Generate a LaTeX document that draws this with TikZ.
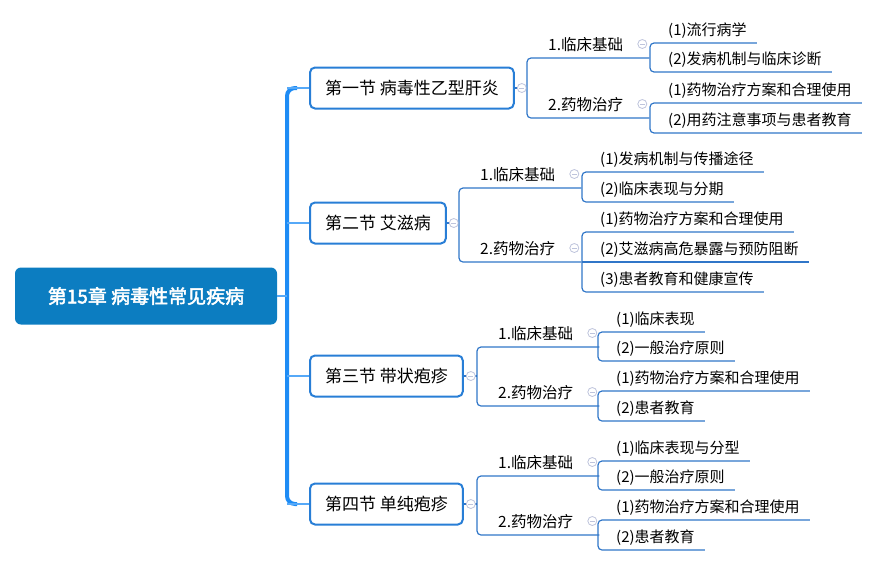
\documentclass[tikz,border=0pt]{standalone}
\usepackage{fontspec}
\setmainfont{Noto Sans CJK SC}[AutoFakeBold=2.5]
\definecolor{rootblue}{RGB}{12,125,193}
\definecolor{trunkblue}{RGB}{30,140,245}
\definecolor{secblue}{RGB}{40,126,214}
\definecolor{linkblue}{RGB}{48,118,200}
\definecolor{foldgray}{RGB}{190,196,220}
\begin{document}
\begin{tikzpicture}[x=1pt,y=-1pt,
                root/.style={fill=rootblue,rounded corners=6pt,text=white,minimum width=262pt,minimum height=57pt,font=\fontsize{19}{22}\selectfont\bfseries},
                sec/.style={draw=secblue,line width=2pt,fill=white,rounded corners=5pt,anchor=west,minimum height=41pt,inner xsep=15pt,font=\fontsize{17}{20}\selectfont},
                sub/.style={anchor=south west,inner sep=0pt,text depth=7pt,font=\fontsize{15.5}{18}\selectfont,execute at begin node={\hspace*{21pt}},execute at end node={\hspace*{26pt}}},
                leaf/.style={anchor=south west,inner sep=0pt,text depth=7pt,font=\fontsize{15}{18}\selectfont,execute at begin node={\hspace*{18pt}},execute at end node={\hspace*{10pt}}},
                link/.style={draw=linkblue,line width=1.2pt},
                bracket/.style={link,rounded corners=4pt},
                branch/.style={draw=trunkblue!75,line width=2pt},
                trunk/.style={draw=trunkblue,line width=4pt,rounded corners=8pt},
                fold/.style={circle,draw=foldgray,fill=white,line width=0.8pt,minimum size=9pt,inner sep=0pt,
                  path picture={\draw[foldgray,line width=0.8pt] ([xshift=2pt]path picture bounding box.west)--([xshift=-2pt]path picture bounding box.east);}}]
                \useasboundingbox (0,0) rectangle (880,566);
                \node[root] (R) at (146,296) {第15章 病毒性常见疾病};
                \node[sec] (S1) at (309,88) {第一节 病毒性乙型肝炎};
                \node[sec] (S2) at (309,223) {第二节 艾滋病};
                \node[sec] (S3) at (309,376) {第三节 带状疱疹};
                \node[sec] (S4) at (309,504) {第四节 单纯疱疹};
                \coordinate (t1) at (287,88);
                \coordinate (t4) at (287,504);
                \draw[trunk] ([xshift=-12pt]S1.west)--(t1)--(t4)--([xshift=-12pt]S4.west);
                \draw[branch] (S1.west -| t1)--(S1.west);
                \draw[branch] (S2.west -| t1)--(S2.west);
                \draw[branch] (S3.west -| t1)--(S3.west);
                \draw[branch] (S4.west -| t1)--(S4.west);
                \draw[branch] (R.east)--(R.east -| t1);
                \node[sub] (T11) at (527,58) {1.临床基础};
                \node[sub] (T12) at (527,118) {2.药物治疗};
                \node[leaf] (L11a) at (650,43) {(1)流行病学};
                \node[leaf] (L11b) at (650,72) {(2)发病机制与临床诊断};
                \node[leaf] (L12a) at (650,103) {(1)药物治疗方案和合理使用};
                \node[leaf] (L12b) at (650,133) {(2)用药注意事项与患者教育};
                \node[sub] (T21) at (459,188) {1.临床基础};
                \node[sub] (T22) at (459,262) {2.药物治疗};
                \node[leaf] (L21a) at (582,172) {(1)发病机制与传播途径};
                \node[leaf] (L21b) at (582,202) {(2)临床表现与分期};
                \node[leaf] (L22a) at (582,232) {(1)药物治疗方案和合理使用};
                \node[leaf] (L22b) at (582,262) {(2)艾滋病高危暴露与预防阻断};
                \node[leaf] (L22c) at (582,292) {(3)患者教育和健康宣传};
                \node[sub] (T31) at (477,347) {1.临床基础};
                \node[sub] (T32) at (477,406) {2.药物治疗};
                \node[leaf] (L31a) at (598,332) {(1)临床表现};
                \node[leaf] (L31b) at (598,361) {(2)一般治疗原则};
                \node[leaf] (L32a) at (598,391) {(1)药物治疗方案和合理使用};
                \node[leaf] (L32b) at (598,421) {(2)患者教育};
                \node[sub] (T41) at (477,476) {1.临床基础};
                \node[sub] (T42) at (477,535) {2.药物治疗};
                \node[leaf] (L41a) at (598,461) {(1)临床表现与分型};
                \node[leaf] (L41b) at (598,490) {(2)一般治疗原则};
                \node[leaf] (L42a) at (598,520) {(1)药物治疗方案和合理使用};
                \node[leaf] (L42b) at (598,550) {(2)患者教育};
                \draw[link] (S1.east)--(S1.east -| T11.west);
                \draw[link] (S2.east)--(S2.east -| T21.west);
                \draw[link] (S3.east)--(S3.east -| T31.west);
                \draw[link] (S4.east)--(S4.east -| T41.west);
                \draw[bracket] (T11.south east)--(T11.south west)--(T12.south west)--(T12.south east);
                \draw[bracket] (T21.south east)--(T21.south west)--(T22.south west)--(T22.south east);
                \draw[bracket] (T31.south east)--(T31.south west)--(T32.south west)--(T32.south east);
                \draw[bracket] (T41.south east)--(T41.south west)--(T42.south west)--(T42.south east);
                \draw[bracket] (L11a.south east)--(L11a.south west)--(L11b.south west)--(L11b.south east);
                \draw[bracket] (L12a.south east)--(L12a.south west)--(L12b.south west)--(L12b.south east);
                \draw[bracket] (L21a.south east)--(L21a.south west)--(L21b.south west)--(L21b.south east);
                \draw[bracket] (L22a.south east)--(L22a.south west)--(L22c.south west)--(L22c.south east);
                \draw[link] (L22b.south west)--(L22b.south east);
                \draw[bracket] (L31a.south east)--(L31a.south west)--(L31b.south west)--(L31b.south east);
                \draw[bracket] (L32a.south east)--(L32a.south west)--(L32b.south west)--(L32b.south east);
                \draw[bracket] (L41a.south east)--(L41a.south west)--(L41b.south west)--(L41b.south east);
                \draw[bracket] (L42a.south east)--(L42a.south west)--(L42b.south west)--(L42b.south east);
                \node[fold] (F1) at ([xshift=7pt]S1.east) {};
                \node[fold] (F2) at ([xshift=7pt]S2.east) {};
                \node[fold] (F3) at ([xshift=7pt]S3.east) {};
                \node[fold] (F4) at ([xshift=7pt]S4.east) {};
                \node[fold] (F11) at ([xshift=-7pt,yshift=14pt]T11.south east) {};
                \node[fold] (F12) at ([xshift=-7pt,yshift=14pt]T12.south east) {};
                \node[fold] (F21) at ([xshift=-7pt,yshift=14pt]T21.south east) {};
                \node[fold] (F22) at ([xshift=-7pt,yshift=14pt]T22.south east) {};
                \node[fold] (F31) at ([xshift=-7pt,yshift=14pt]T31.south east) {};
                \node[fold] (F32) at ([xshift=-7pt,yshift=14pt]T32.south east) {};
                \node[fold] (F41) at ([xshift=-7pt,yshift=14pt]T41.south east) {};
                \node[fold] (F42) at ([xshift=-7pt,yshift=14pt]T42.south east) {};
                \end{tikzpicture}
\end{document}
